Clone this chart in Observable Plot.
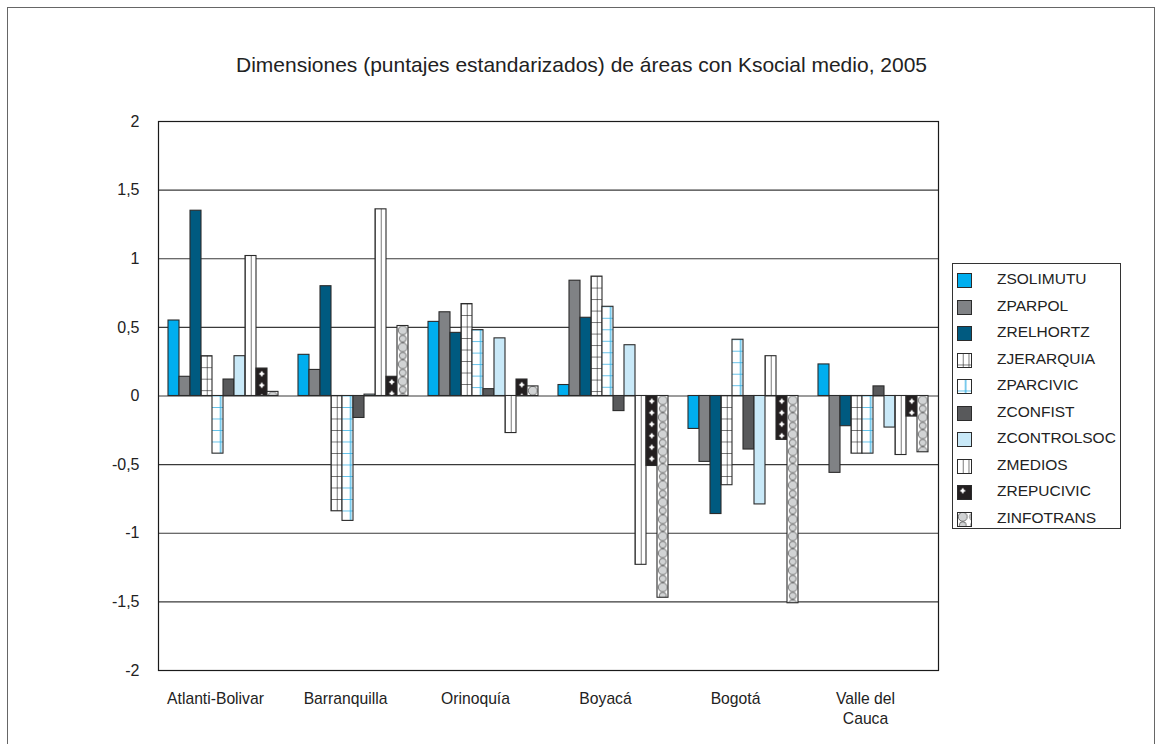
<!DOCTYPE html>
<html>
<head>
<meta charset="utf-8">
<script src="https://cdn.jsdelivr.net/npm/d3@7"></script>
<script src="https://cdn.jsdelivr.net/npm/@observablehq/plot@0.6"></script>
<style>
  body { margin: 0; background: #fff; }
  #wrap { position: relative; width: 1161px; height: 744px; overflow: hidden; font-family: "Liberation Sans", Arial, sans-serif; }
  #outer { position: absolute; left: 7px; top: 7px; width: 1146px; height: 800px; border: 1.5px solid #666; pointer-events: none; }
  #legend { position: absolute; left: 952px; top: 263px; width: 167px; height: 264px; border: 1px solid #333; background: #fff; }
  #legend .item { position: absolute; left: 0; height: 26px; width: 167px; }
  #legend svg { position: absolute; left: 4px; top: 6px; }
  #legend span { position: absolute; left: 44px; top: 3px; font-size: 15.5px; color: #222; white-space: nowrap; }
</style>
</head>
<body>
<div id="wrap"><div id="outer"></div><div id="legend"></div></div>
<script>
const title = "Dimensiones (puntajes estandarizados) de áreas con Ksocial medio, 2005";
const categories = ["Atlanti-Bolivar", "Barranquilla", "Orinoquía", "Boyacá", "Bogotá", "Valle del Cauca"];
const categoryLabels = ["Atlanti-Bolivar", "Barranquilla", "Orinoquía", "Boyacá", "Bogotá", "Valle del\nCauca"];
const series = ["ZSOLIMUTU", "ZPARPOL", "ZRELHORTZ", "ZJERARQUIA", "ZPARCIVIC", "ZCONFIST", "ZCONTROLSOC", "ZMEDIOS", "ZREPUCIVIC", "ZINFOTRANS"];

const ZSOLIMUTU   = [0.55, 0.30, 0.54, 0.08, -0.24, 0.23];
const ZPARPOL     = [0.14, 0.19, 0.61, 0.84, -0.48, -0.56];
const ZRELHORTZ   = [1.35, 0.80, 0.46, 0.57, -0.86, -0.22];
const ZJERARQUIA  = [0.29, -0.84, 0.67, 0.87, -0.65, -0.42];
const ZPARCIVIC   = [-0.42, -0.91, 0.48, 0.65, 0.41, -0.42];
const ZCONFIST    = [0.12, -0.16, 0.05, -0.11, -0.39, 0.07];
const ZCONTROLSOC = [0.29, 0.01, 0.42, 0.37, -0.79, -0.23];
const ZMEDIOS     = [1.02, 1.36, -0.27, -1.23, 0.29, -0.43];
const ZREPUCIVIC  = [0.20, 0.14, 0.12, -0.51, -0.32, -0.15];
const ZINFOTRANS  = [0.03, 0.51, 0.07, -1.47, -1.51, -0.41];
const seriesValues = [ZSOLIMUTU, ZPARPOL, ZRELHORTZ, ZJERARQUIA, ZPARCIVIC, ZCONFIST, ZCONTROLSOC, ZMEDIOS, ZREPUCIVIC, ZINFOTRANS];

const yTicks = [-2, -1.5, -1, -0.5, 0, 0.5, 1, 1.5, 2];
const seriesFills = ["#00aeef", "#808285", "#005a80", "url(#pJer)", "url(#pPar)", "#58595b", "#c9e9f8", "url(#pMed)", "url(#pRep)", "url(#pInf)"];

const data = categories.flatMap((c, i) => series.map((s, j) => ({category: c, series: s, value: seriesValues[j][i]})));
const fmt = d => String(d).replace(".", ",");

const chart = Plot.plot({
  width: 1161, height: 744,
  marginTop: 121, marginRight: 221, marginBottom: 74, marginLeft: 155,
  style: {fontFamily: '"Liberation Sans", Arial, sans-serif', fontSize: "15px", color: "#222", background: "transparent", overflow: "visible"},
  fx: {domain: categories, padding: 0, label: null},
  x: {domain: series, paddingInner: 0, paddingOuter: 0.68, axis: null},
  y: {domain: [-2, 2], label: null},
  color: {domain: series, range: seriesFills},
  marks: [
    Plot.ruleY(yTicks.filter(v => Math.abs(v) < 2), {stroke: "#3a3a3a", strokeWidth: 1.2}),
    Plot.barY(data, {fx: "category", x: "series", y: "value", fill: "series", stroke: "#2b2b2b", strokeWidth: 1.1}),
    Plot.frame({facet: "super", stroke: "#1a1a1a", strokeWidth: 1.2}),
    Plot.axisY(yTicks, {tickSize: 0, tickPadding: 19, tickFormat: fmt, label: null, fontSize: 16}),
    Plot.axisFx({anchor: "bottom", tickSize: 0, tickPadding: 19, label: null, dx: -8, lineHeight: 1.3, fontSize: 15.7,
      tickFormat: d => categoryLabels[categories.indexOf(d)]}),
    Plot.text([title], {facet: "super", frameAnchor: "top", dx: 33, dy: -64, fontSize: 21, fill: "#222"})
  ]
});

document.getElementById("wrap").insertBefore(chart, document.getElementById("outer"));
chart.style.position = "absolute"; chart.style.left = "0"; chart.style.top = "0";

// pattern definitions
const svg = d3.select(chart);
const defs = svg.insert("defs", ":first-child");
const bw = 11.5;
function makePatterns(defs) {
  let p = defs.append("pattern").attr("id", "pJer").attr("patternUnits", "userSpaceOnUse").attr("width", bw / 2).attr("height", bw);
  p.append("rect").attr("width", bw / 2).attr("height", bw).attr("fill", "#fff");
  p.append("line").attr("x1", 0).attr("x2", 0).attr("y1", 0).attr("y2", bw).attr("stroke", "#222").attr("stroke-width", 1.2);
  p.append("line").attr("x1", 0).attr("x2", bw / 2).attr("y1", 0).attr("y2", 0).attr("stroke", "#222").attr("stroke-width", 1.2);

  p = defs.append("pattern").attr("id", "pPar").attr("patternUnits", "userSpaceOnUse").attr("width", bw).attr("height", bw);
  p.append("rect").attr("width", bw).attr("height", bw).attr("fill", "#fff");
  p.append("line").attr("x1", bw * 0.75).attr("x2", bw * 0.75).attr("y1", 0).attr("y2", bw).attr("stroke", "#29abe2").attr("stroke-width", 1.2);
  p.append("line").attr("x1", 0).attr("x2", bw).attr("y1", 0).attr("y2", 0).attr("stroke", "#29abe2").attr("stroke-width", 1.4);

  p = defs.append("pattern").attr("id", "pMed").attr("patternUnits", "userSpaceOnUse").attr("width", bw / 2).attr("height", bw);
  p.append("rect").attr("width", bw / 2).attr("height", bw).attr("fill", "#fff");
  p.append("line").attr("x1", 0).attr("x2", 0).attr("y1", 0).attr("y2", bw).attr("stroke", "#222").attr("stroke-width", 1.2);

  p = defs.append("pattern").attr("id", "pRep").attr("patternUnits", "userSpaceOnUse").attr("width", bw).attr("height", bw);
  p.append("rect").attr("width", bw).attr("height", bw).attr("fill", "#231f20");
  p.append("path").attr("d", `M${bw/2},${bw/2-3} L${bw/2+1.2},${bw/2-1.2} L${bw/2+3},${bw/2} L${bw/2+1.2},${bw/2+1.2} L${bw/2},${bw/2+3} L${bw/2-1.2},${bw/2+1.2} L${bw/2-3},${bw/2} L${bw/2-1.2},${bw/2-1.2}Z`).attr("fill", "#fff");

  p = defs.append("pattern").attr("id", "pInf").attr("patternUnits", "userSpaceOnUse").attr("width", bw).attr("height", 17);
  p.append("rect").attr("width", bw).attr("height", 17).attr("fill", "#fff");
  p.append("circle").attr("cx", bw / 2).attr("cy", 4.8).attr("r", 4.5).attr("fill", "#d1d3d4").attr("stroke", "#555").attr("stroke-width", 0.8);
  p.append("circle").attr("cx", bw / 2).attr("cy", 13.2).attr("r", 3.5).attr("fill", "#d1d3d4").attr("stroke", "#555").attr("stroke-width", 0.8);
}
makePatterns(defs);

// align each patterned bar's tiling with its own rectangle
let k = 0;
svg.selectAll("rect").each(function() {
  const f = this.getAttribute("fill");
  if (!f || !f.startsWith("url(#p")) return;
  const id = f.slice(5, -1);
  const base = chart.querySelector("#" + id);
  if (!base) return;
  const clone = base.cloneNode(true);
  const nid = id + "_" + (k++);
  clone.setAttribute("id", nid);
  clone.setAttribute("x", this.getAttribute("x") || 0);
  clone.setAttribute("y", this.getAttribute("y") || 0);
  base.parentNode.appendChild(clone);
  this.setAttribute("fill", `url(#${nid})`);
});

// legend
const legend = d3.select("#legend");
series.forEach((s, i) => {
  const item = legend.append("div").attr("class", "item").style("top", (3 + i * 26.55) + "px");
  const sw = item.append("svg").attr("width", 15).attr("height", 15);
  sw.append("rect").attr("x", 0.5).attr("y", 0.5).attr("width", 14).attr("height", 14)
    .attr("fill", seriesFills[i]).attr("stroke", "#2b2b2b").attr("stroke-width", 1);
  item.append("span").text(s);
});
</script>
</body>
</html>
